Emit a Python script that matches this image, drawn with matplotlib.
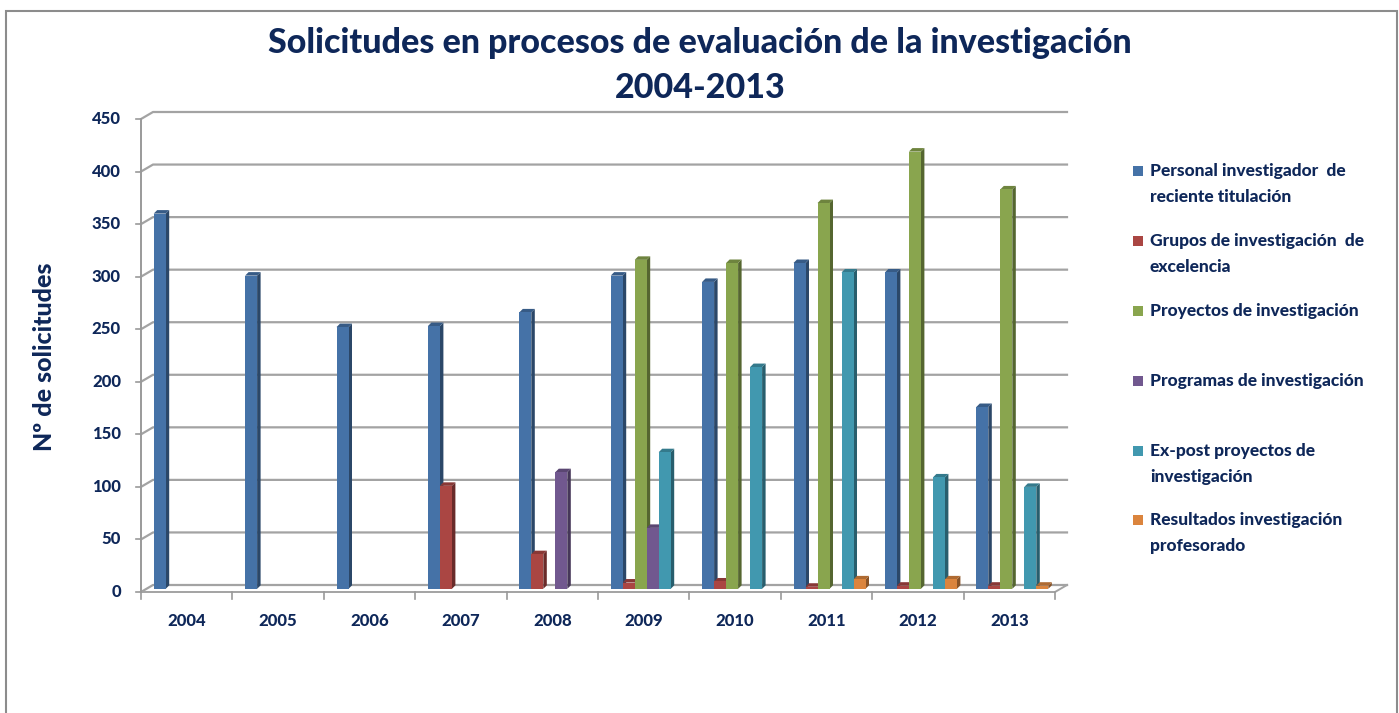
import matplotlib
matplotlib.use("Agg")
import matplotlib.pyplot as plt
from matplotlib.patches import Rectangle, Polygon
from matplotlib.lines import Line2D
import numpy as np

years = ["2004", "2005", "2006", "2007", "2008", "2009", "2010", "2011", "2012", "2013"]
series_names = [
    "Personal investigador  de\nreciente titulación",
    "Grupos de investigación  de\nexcelencia",
    "Proyectos de investigación",
    "Programas de investigación",
    "Ex-post proyectos de\ninvestigación",
    "Resultados investigación\nprofesorado",
]
personal = [357, 298, 249, 250, 263, 298, 292, 310, 301, 173]
grupos = [0, 0, 0, 98, 33, 6, 7, 2, 3, 3]
proyectos = [0, 0, 0, 0, 0, 313, 310, 367, 416, 380]
programas = [0, 0, 0, 0, 111, 58, 0, 0, 0, 0]
expost = [0, 0, 0, 0, 0, 130, 211, 301, 106, 97]
resultados = [0, 0, 0, 0, 0, 0, 0, 9, 9, 3]
yticks = [0, 50, 100, 150, 200, 250, 300, 350, 400, 450]

data = [personal, grupos, proyectos, programas, expost, resultados]
colors = ["#4572A7", "#AA4643", "#89A54E", "#71588F", "#4198AF", "#DB843D"]
navy = "#0E2759"
FONT = "Lato"

W, H = 1399, 713
fig = plt.figure(figsize=(W / 100, H / 100), dpi=100)
fig.patch.set_facecolor("white")

# outer border
fig.add_artist(Rectangle((6 / W, -0.05), (1397 - 6) / W, 1.05 - 11 / H,
                         transform=fig.transFigure, fill=False,
                         edgecolor="#8c8c8c", lw=1.5))

ax_l, ax_r, ax_b, ax_t = 141, 1055, 592, 119
ax = fig.add_axes([ax_l / W, 1 - ax_b / H, (ax_r - ax_l) / W, (ax_b - ax_t) / H])
ax.set_xlim(-0.5, 9.5)
ax.set_ylim(0, 450)
ax.axis("off")

pxx = (ax_r - ax_l) / 10.0   # px per x unit
pxy = (ax_b - ax_t) / 450.0  # px per y unit

dxb, dyb = 12 / pxx, 7 / pxy  # back plane offset
# gridlines on back wall
for v in yticks:
    ax.add_line(Line2D([-0.5, -0.5 + dxb, 9.5 + dxb], [v, v + dyb, v + dyb],
                       color="#a3a3a3", lw=1.6, clip_on=False, zorder=1))
# floor front edge
ax.add_line(Line2D([-0.5, 9.5, 9.5 + dxb], [0, 0, dyb], color="#a3a3a3",
                   lw=1.4, clip_on=False, zorder=1))
# y axis
ax.add_line(Line2D([-0.5, -0.5], [0, 450], color="#9a9a9a", lw=1.4,
                   clip_on=False, zorder=1))
for v in yticks:
    ax.add_line(Line2D([-0.5 - 5 / pxx, -0.5], [v, v], color="#9a9a9a", lw=1.2,
                       clip_on=False))
    ax.text(-0.5 - 20 / pxx, v, str(v), ha="right", va="center", fontsize=12,
            fontweight="black", color=navy, family=FONT)
# x ticks
for k in range(11):
    x = -0.5 + k
    ax.add_line(Line2D([x, x], [0, -7 / pxy], color="#9a9a9a", lw=1.2,
                       clip_on=False))
for k, yl in enumerate(years):
    ax.text(k, -29 / pxy, yl, ha="center", va="center", fontsize=12,
            fontweight="black", color=navy, family=FONT)


def shade(c, f):
    c = np.array(matplotlib.colors.to_rgb(c))
    if f < 1:
        return tuple(c * f)
    return tuple(c + (1 - c) * (f - 1))


pitch = 12 / pxx
bw = 12 / pxx
sx, sy = 3.5 / pxx, 3.5 / pxy
base = 3.0
shift = 3 / pxx
for k in range(len(years)):
    for i, ser in enumerate(data):
        v = ser[k]
        if v <= 0:
            continue
        x0 = k + (i - 2.5) * pitch - bw / 2 + shift
        x1 = x0 + bw
        top = base + v
        col = colors[i]
        z = 3 + i * 0.01
        ax.add_patch(Polygon([(x1, base), (x1 + sx, base + sy), (x1 + sx, top + sy), (x1, top)],
                             closed=True, facecolor=shade(col, 0.62), edgecolor="none",
                             zorder=z, clip_on=False))
        ax.add_patch(Polygon([(x0, top), (x0 + sx, top + sy), (x1 + sx, top + sy), (x1, top)],
                             closed=True, facecolor=shade(col, 0.8), edgecolor="none",
                             zorder=z, clip_on=False))
        ax.add_patch(Rectangle((x0, base), bw, v, facecolor=col, edgecolor="none",
                               zorder=z, clip_on=False))

# y label
fig.text(45 / W, 1 - 357 / H, "Nº de solicitudes", rotation=90, ha="center",
         va="center", fontsize=18, fontweight="black", color=navy, family=FONT)

# title
fig.text(700 / W, 1 - 43 / H, "Solicitudes en procesos de evaluación de la investigación",
         ha="center", va="center", fontsize=24.5, fontweight="black", color=navy, family=FONT)
fig.text(700 / W, 1 - 88 / H, "2004-2013", ha="center", va="center", fontsize=24.5,
         fontweight="black", color=navy, family=FONT)

# legend
leg_y = [171, 241, 311, 381, 451, 520]
for i, name in enumerate(series_names):
    y = leg_y[i]
    fig.add_artist(Rectangle((1133 / W, 1 - (y + 5) / H), 10 / W, 10 / H,
                             transform=fig.transFigure, facecolor=colors[i],
                             edgecolor="none"))
    fig.text(1150 / W, 1 - (y - 8) / H, name, ha="left", va="top", fontsize=12.5,
             fontweight="black", color=navy, family=FONT, linespacing=1.75)

fig.savefig("out.png", dpi=100)
